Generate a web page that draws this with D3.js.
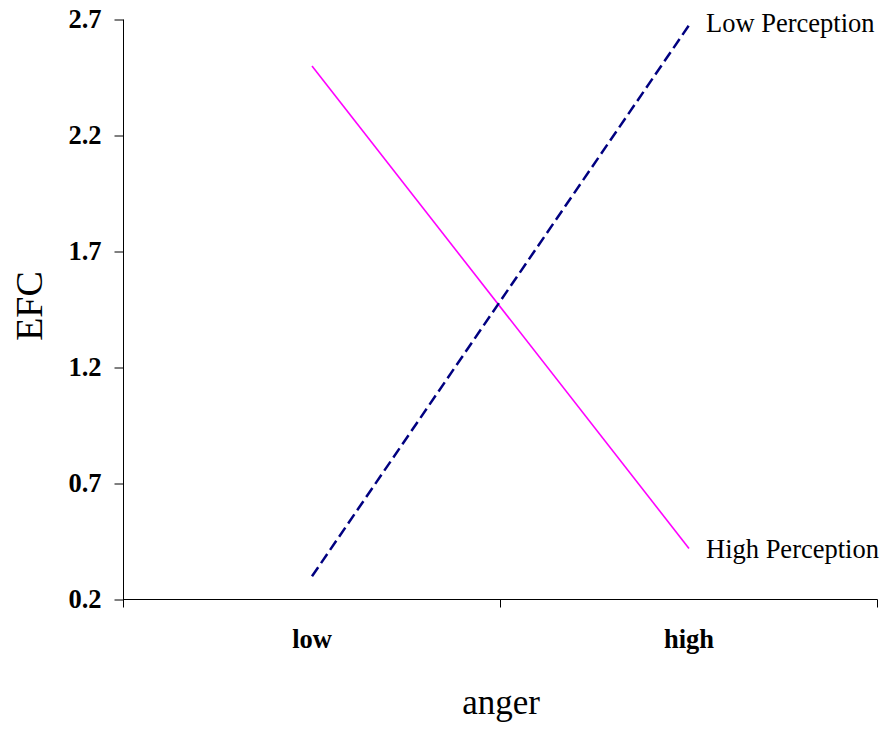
<!DOCTYPE html>
<html>
<head>
<meta charset="utf-8">
<script src="https://cdn.jsdelivr.net/npm/d3@7"></script>
<style>
    body { margin: 0; background: #fff; }
    svg { font-family: "Liberation Serif", "Times New Roman", serif; }
    .axis path, .axis line { stroke: #000; }
    .axis text { font-size: 26.5px; font-weight: bold; fill: #000; font-family: "Liberation Serif", serif; }
</style>
</head>
<body>
<svg id="chart"></svg>
<script>
// Data
const categories = ['low', 'high'];
const yTicks = [0.2, 0.7, 1.2, 1.7, 2.2, 2.7];
const highPerception = [2.5, 0.42];
const lowPerception = [0.3, 2.675];
const seriesNames = ['High Perception', 'Low Perception'];

const width = 887, height = 729;
const margin = {left: 123.5, right: 10, top: 19.5, bottom: 130.5};

const svg = d3.select('#chart')
    .attr('width', width)
    .attr('height', height);

// Y Scale
const yScale = d3.scaleLinear()
    .domain([0.2, 2.7])
    .range([height - margin.bottom + 1, margin.top]);

// X Scale
const xScale = d3.scaleBand()
    .domain(categories)
    .range([margin.left, 877.5]);

const yAxis = svg.append('g')
    .classed('axis', true)
    .attr('transform', `translate(${margin.left}, 0)`)
    .call(d3.axisLeft(yScale).tickValues(yTicks).tickFormat(d3.format('.1f')).tickSize(9).tickSizeOuter(0).tickPadding(13));
yAxis.select('.domain').attr('d', `M0,${yScale(2.7)}V${yScale(0.2) + 8}`);

const xAxis = svg.append('g')
    .classed('axis', true)
    .attr('transform', `translate(0, ${yScale(0.2)})`)
    .call(d3.axisBottom(xScale).tickSize(0).tickPadding(30));
xAxis.select('.domain').attr('d', `M${margin.left},0H877.5`);
// category boundary ticks
xAxis.selectAll('.bound')
    .data([xScale('high'), 877.5])
    .join('line')
    .attr('class', 'bound')
    .attr('x1', d => d).attr('x2', d => d)
    .attr('y1', 0).attr('y2', 8)
    .attr('stroke', '#000');

const line = d3.line()
    .x((d, i) => xScale(categories[i]) + xScale.bandwidth() / 2)
    .y(d => yScale(d));

svg.append('path')
    .datum(highPerception)
    .attr('d', line)
    .attr('fill', 'none')
    .attr('stroke', '#ff00ff')
    .attr('stroke-width', 1.6);

svg.append('path')
    .datum(lowPerception)
    .attr('d', line)
    .attr('fill', 'none')
    .attr('stroke', '#000080')
    .attr('stroke-width', 2.5)
    .attr('stroke-dasharray', '11,5');

// Series labels at line ends
const ends = [highPerception[1], lowPerception[1]];
svg.selectAll('.series-label')
    .data(seriesNames)
    .join('text')
    .attr('class', 'series-label')
    .attr('x', 706)
    .attr('y', (d, i) => yScale(ends[i]) + (i === 0 ? 10 : 7))
    .attr('font-size', 26.5)
    .text(d => d);

// Axis titles
svg.append('text')
    .attr('x', 501)
    .attr('y', 714)
    .attr('text-anchor', 'middle')
    .attr('font-size', 35)
    .text('anger');

svg.append('text')
    .attr('transform', `translate(42, 306) rotate(-90)`)
    .attr('text-anchor', 'middle')
    .attr('font-size', 38)
    .text('EFC');
</script>
</body>
</html>
